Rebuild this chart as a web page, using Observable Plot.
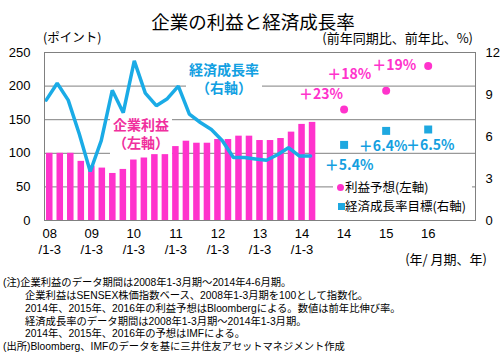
<!DOCTYPE html>
<html><head><meta charset="utf-8">
<script src="https://cdn.jsdelivr.net/npm/d3@7"></script>
<script src="https://cdn.jsdelivr.net/npm/@observablehq/plot@0.6"></script>
<style>
body{margin:0;background:#fff;font-family:"Noto Sans CJK JP",sans-serif;color:#000;}
#wrap{position:relative;width:500px;height:357px;overflow:hidden;}
#wrap svg{position:absolute;left:0;top:0;}
.abs{position:absolute;white-space:nowrap;line-height:1;}
.note{position:absolute;white-space:nowrap;line-height:1;font-size:10.3px;font-family:"Liberation Sans","Noto Sans CJK JP",sans-serif;}
.box{position:absolute;background:#fff;text-align:center;font-weight:bold;font-size:14px;line-height:18px;white-space:nowrap;font-family:"Liberation Sans","Noto Sans CJK JP",sans-serif;}
</style></head><body><div id="wrap"></div>
<script>
// ---- data ----
const startYear = 2008;
const profitIndex = [100,100,100,88,81,78,70,76,90,93,98,98,110,118,115,115,120.5,120.5,125.5,125.5,119,119,122,131.5,143,146];
const gdpGrowth = [8.6,9.8,8.6,6.2,3.5,5.7,9.3,7.7,11.4,9.1,8.2,8.7,9.6,7.6,7.0,6.5,5.7,4.5,4.5,4.4,4.3,4.7,5.2,4.6,4.6];
const forecastYears = [2014,2015,2016];
const profitForecast = [165,193,230];
const profitForecastLabels = ["＋23%","＋18%","＋19%"];
const gdpTarget = [5.4,6.4,6.5];
const gdpTargetLabels = ["＋5.4%","＋6.4%","＋6.5%"];
const xYearLabels = ["08","09","10","11","12","13","14"];
const xQuarterLabel = "/1-3";
const forecastYearLabels = ["14","15","16"];
const leftTicks = [0,50,100,150,200,250];
const rightTicks = [0,3,6,9,12];
const gridValues = [50,100,150,200];

// ---- helpers ----
const leftMax = 250, rightMax = 12;
const toLeft = v => v * leftMax / rightMax;
const lineStart = -0.34, lineStep = 11 / 10.5; // secondary category spacing of the line
const forecastSlot = y => (y - startYear + 1) * 4;

const bars = profitIndex.map((v, i) => ({i, v}));
const gdp = gdpGrowth.map((v, i) => ({x: lineStart + i * lineStep, v: toLeft(v)}));
const pf = forecastYears.map((y, k) => ({x: forecastSlot(y), v: profitForecast[k], t: profitForecastLabels[k]}));
const gt = forecastYears.map((y, k) => ({x: forecastSlot(y), v: toLeft(gdpTarget[k]), t: gdpTargetLabels[k]}));

const pink = "#ff33cc", blue = "#1aabe6", grid = "#808080";
const numFont = "Liberation Sans, Arial, sans-serif";
const pinkOff = [[-23,-15],[-37,-16],[-34,0]];
const blueOff = [[5,21],[-3,16],[2,16]];

const marks = [
  Plot.ruleY(gridValues, {stroke: grid, strokeWidth: 1}),
  Plot.rectY(bars, {x1: d => d.i - 0.31, x2: d => d.i + 0.31, y: "v", fill: pink}),
  Plot.line(gdp, {x: "x", y: "v", stroke: blue, strokeWidth: 3.5, strokeLinejoin: "miter"}),
  Plot.dot(pf, {x: "x", y: "v", r: 4, fill: pink}),
  Plot.dot(gt, {x: "x", y: "v", r: 4.5, symbol: "square", fill: "#1ea8e0"}),
  ...pf.map((d, k) => Plot.text([d], {x: "x", y: "v", text: "t", dx: pinkOff[k][0], dy: pinkOff[k][1], fill: pink, fontSize: 14, fontWeight: "bold"})),
  ...gt.map((d, k) => Plot.text([d], {x: "x", y: "v", text: "t", dx: blueOff[k][0], dy: blueOff[k][1], fill: "#149fe0", fontSize: 14, fontWeight: "bold"})),
  Plot.frame({stroke: grid}),
  Plot.axisY({ticks: leftTicks, tickSize: 0, tickPadding: 14, fontSize: 13, fontFamily: numFont, label: null}),
  Plot.axisY({anchor: "right", ticks: rightTicks.map(toLeft), tickFormat: v => Math.round(v * rightMax / leftMax), tickSize: 0, tickPadding: 10, fontSize: 13, fontFamily: numFont, label: null}),
  Plot.text(xYearLabels.map((t, k) => ({t, x: k * 4})), {x: "x", text: "t", frameAnchor: "bottom", dy: 17, fontSize: 13, fontFamily: numFont}),
  Plot.text(xYearLabels.map((t, k) => ({t: xQuarterLabel, x: k * 4})), {x: "x", text: "t", frameAnchor: "bottom", dy: 33.5, fontSize: 13, fontFamily: numFont}),
  Plot.text(forecastYears.map((y, k) => ({t: forecastYearLabels[k], x: forecastSlot(y)})), {x: "x", text: "t", frameAnchor: "bottom", dy: 17, fontSize: 13, fontFamily: numFont})
];

const chart = Plot.plot({
  width: 500, height: 270,
  marginTop: 52, marginBottom: 50, marginLeft: 44, marginRight: 25,
  x: {type: "linear", domain: [-0.5, 40.5], axis: null},
  y: {domain: [0, leftMax], axis: null},
  style: {fontFamily: "Noto Sans CJK JP, sans-serif", fontSize: "13px", color: "#000", background: "transparent"},
  marks
});

const wrap = document.getElementById("wrap");
wrap.appendChild(chart);

function add(html, css, cls = "abs") {
  const d = document.createElement("div");
  d.className = cls;
  d.innerHTML = html;
  d.style.cssText = css;
  wrap.appendChild(d);
  return d;
}
add("企業の利益と経済成長率", "left:0;width:506px;text-align:center;top:11.5px;font-size:18.5px;");
add("(ポイント)", "left:43px;top:31px;font-size:12.5px;");
add("(前年同期比、前年比、%)", "right:27px;top:31px;font-size:13px;");
add("(年/ 月期、年)", "right:13px;top:252px;font-size:13px;");
add("経済成長率<br>（右軸）", "left:186px;top:60px;width:76px;height:37px;padding-top:1px;box-sizing:border-box;color:#12a0e2;", "box");
add("企業利益<br>（左軸）", "left:110px;top:115px;width:62px;height:39px;padding-top:1px;box-sizing:border-box;color:#f0309e;", "box");
// legend
add("", "left:333px;top:177px;width:139px;height:39px;background:#fff;");
add("", "left:336.5px;top:184.2px;width:7px;height:7px;border-radius:50%;background:" + pink + ";");
add("利益予想(左軸)", "left:345px;top:180.8px;font-size:12.5px;");
add("", "left:337.5px;top:203.2px;width:7px;height:7px;background:#1ea8e0;");
add("経済成長率目標(右軸)", "left:345px;top:199.8px;font-size:12.5px;");
// notes
const notes = [
  ["(注)企業利益のデータ期間は2008年1-3月期～2014年4-6月期。", 3, 283.3],
  ["企業利益はSENSEX株価指数ベース、2008年1-3月期を100として指数化。", 25, 296.7],
  ["2014年、2015年、2016年の利益予想はBloombergによる。数値は前年比伸び率。", 25, 309.3],
  ["経済成長率のデータ期間は2008年1-3月期～2014年1-3月期。", 25, 322.3],
  ["2014年、2015年、2016年の予想はIMFによる。", 25, 335],
  ["(出所)Bloomberg、IMFのデータを基に三井住友アセットマネジメント作成", 3, 347.7]
];
notes.forEach(([t, x, y]) => add(t, `left:${x}px;top:${y - 5.7}px;`, "note"));
</script></body></html>
